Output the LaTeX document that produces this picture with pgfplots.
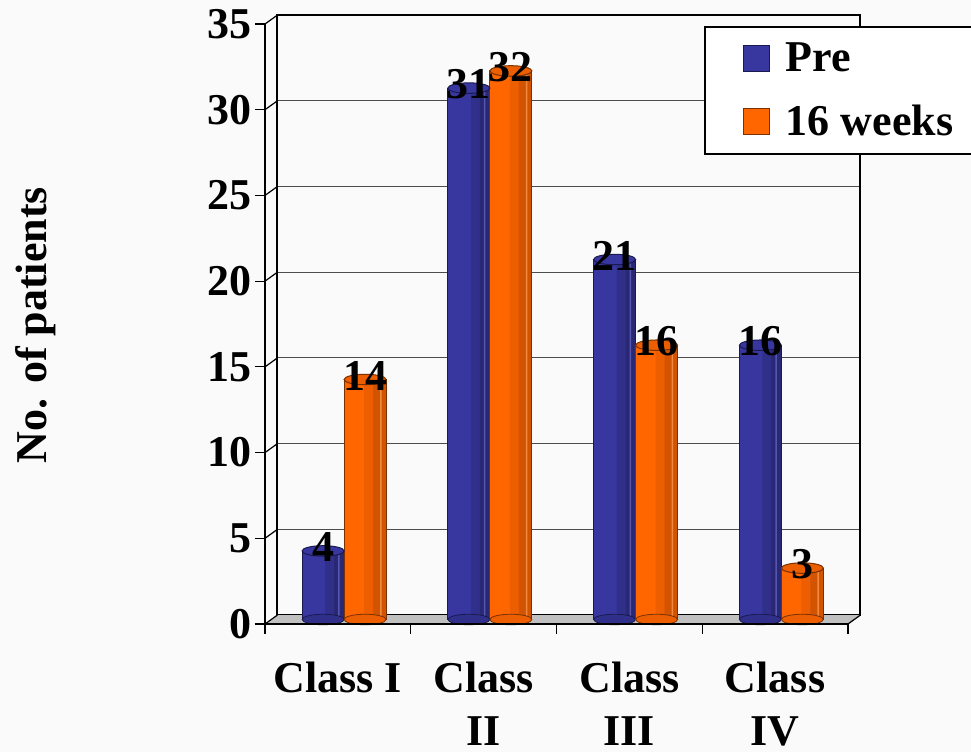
\documentclass[border=0pt]{standalone}
\usepackage{pgfplots}
\usepackage{pgfplotstable}
\pgfplotsset{compat=1.18}
\usepackage{fontspec}
\setmainfont{Liberation Serif}

\definecolor{preA}{HTML}{37379F}
\definecolor{preB}{HTML}{30308A}
\definecolor{preC}{HTML}{282874}
\definecolor{preH}{HTML}{5656AE}
\definecolor{preE}{HTML}{1A1A50}
\definecolor{wkA}{HTML}{FF6600}
\definecolor{wkB}{HTML}{EC5E00}
\definecolor{wkC}{HTML}{D25300}
\definecolor{wkH}{HTML}{F08A40}
\definecolor{wkE}{HTML}{7A3200}
\definecolor{floorgray}{HTML}{C0C0C0}
\definecolor{bg}{HTML}{FAFAFA}

\newcommand{\lblfont}{\bfseries\fontsize{22}{26.5}\selectfont}

% patients per NYHA class, before and after 16 weeks
\pgfplotstableread{
x pre wk
0 4 14
1 31 32
2 21 16
3 16 3
}\datatable

\pgfplotsset{
  /pgf/number format/assume math mode=true,
  geom/.style={width=291.5pt, height=300pt, scale only axis,
    xmin=-0.5, xmax=3.5, ymin=0, ymax=35, clip=false},
  % one vertical band of a cylinder: #1 = width, #2 = shift, #3 = colour
  band/.style n args={3}{ybar, bar width=#1, bar shift=#2, fill=#3, draw=none},
}

\begin{document}
\begin{tikzpicture}
\fill[bg] (-132.5pt,-64pt) rectangle (353pt,312pt);
\useasboundingbox (-132.5pt,-64pt) rectangle (353pt,312pt);

% back wall with grid, and the floor
\begin{axis}[geom, at={(6.25pt,4.5pt)},
  axis line style={black, line width=1pt},
  xtick=\empty, ytick={5,10,...,30}, yticklabels={},
  tick style={draw=none},
  ymajorgrids, major grid style={black!70, line width=0.6pt}]
  \fill[floorgray] (rel axis cs:0,0) -- (rel axis cs:1,0)
     -- ++(-6.25pt,-4.5pt) -- ++(-291.5pt,0pt) -- cycle;
\end{axis}

% cylinders, set half way into the depth
\begin{axis}[geom, at={(3.125pt,2.25pt)}, hide axis]
  % rounded feet
  \addplot[only marks, mark=*, mark size=10.5pt,
    mark options={xshift=-10.5pt, yscale=0.25, fill=preB, draw=preE, line width=0.4pt}]
    table[x=x, y expr=0]{\datatable};
  \addplot[only marks, mark=*, mark size=10.5pt,
    mark options={xshift=10.5pt, yscale=0.25, fill=wkB, draw=wkE, line width=0.4pt}]
    table[x=x, y expr=0]{\datatable};
  % Pre bodies
  \addplot[band={21pt}{-10.5pt}{preA}] table[x=x, y=pre]{\datatable};
  \addplot[band={9.5pt}{-4.75pt}{preB}] table[x=x, y=pre]{\datatable};
  \addplot[band={5pt}{-2.5pt}{preC}] table[x=x, y=pre]{\datatable};
  \addplot[band={0.7pt}{-2.6pt}{preH}] table[x=x, y=pre]{\datatable};
  \addplot[ybar, bar width=21pt, bar shift=-10.5pt, fill=none, draw=preE, line width=0.5pt]
    table[x=x, y=pre]{\datatable};
  % 16 weeks bodies
  \addplot[band={21pt}{10.5pt}{wkA}] table[x=x, y=wk]{\datatable};
  \addplot[band={11pt}{15.5pt}{wkB}] table[x=x, y=wk]{\datatable};
  \addplot[band={6.5pt}{17.75pt}{wkC}] table[x=x, y=wk]{\datatable};
  \addplot[band={0.7pt}{18.4pt}{wkH}] table[x=x, y=wk]{\datatable};
  \addplot[ybar, bar width=21pt, bar shift=10.5pt, fill=none, draw=wkE, line width=0.5pt]
    table[x=x, y=wk]{\datatable};
  % tops with value labels
  \addplot[only marks, mark=*, mark size=10.5pt,
    mark options={xshift=-10.5pt, yscale=0.25, fill=preA, draw=preE, line width=0.5pt},
    nodes near coords,
    every node near coord/.append style={anchor=center, yshift=2pt,
      font=\lblfont, text=black}]
    table[x=x, y=pre]{\datatable};
  \addplot[only marks, mark=*, mark size=10.5pt,
    mark options={xshift=10.5pt, yscale=0.25, fill=wkB, draw=wkE, line width=0.5pt},
    nodes near coords,
    every node near coord/.append style={anchor=center, yshift=2pt,
      font=\lblfont, text=black}]
    table[x=x, y=wk]{\datatable};
\end{axis}

% front axes, labels and legend
\begin{axis}[geom,
  axis lines*=left,
  axis line style={black, line width=0.9pt},
  xtick={0,1,2,3},
  xticklabels={Class I, {Class\\II}, {Class\\III}, {Class\\IV}},
  xticklabel style={font=\lblfont, align=center, yshift=-10.5pt},
  xtick style={draw=none},
  ytick={0,5,...,35},
  tick align=outside, major tick length=5pt,
  ytick style={black, line width=0.6pt},
  yticklabel style={font=\lblfont, xshift=2pt},
  ylabel={No. of patients},
  every axis y label/.style={at={(axis description cs:-0.393,0.498)},
    rotate=90, anchor=center, font=\lblfont},
  legend image code/.code={\draw[#1] (0pt,-6.5pt) rectangle (13pt,6.5pt);},
  legend style={at={(rel axis cs:0.753,0.9967)}, anchor=north west,
    draw=black, line width=0.8pt, fill=white, font=\lblfont,
    inner xsep=19pt, inner ysep=6pt, row sep=11pt, cells={anchor=west},
    /tikz/every odd column/.append style={column sep=6pt}},
  legend cell align=left]
  \addlegendimage{fill=preA, draw=preE, line width=0.5pt}
  \addlegendentry{Pre}
  \addlegendimage{fill=wkA, draw=wkE, line width=0.5pt}
  \addlegendentry{16 weeks}
  % links from the front ticks to the back wall
  \pgfplotsinvokeforeach{0,5,...,35}{
    \draw[black, line width=0.6pt] (axis cs:-0.5,#1) -- ++(6.25pt,4.5pt);
  }
  \draw[black, line width=0.6pt] (axis cs:3.5,0) -- ++(6.25pt,4.5pt);
  % category separators
  \pgfplotsinvokeforeach{-0.5,0.5,1.5,2.5,3.5}{
    \draw[black, line width=0.6pt] (axis cs:#1,0) -- ++(0pt,-5pt);
  }
\end{axis}
\end{tikzpicture}
\end{document}
